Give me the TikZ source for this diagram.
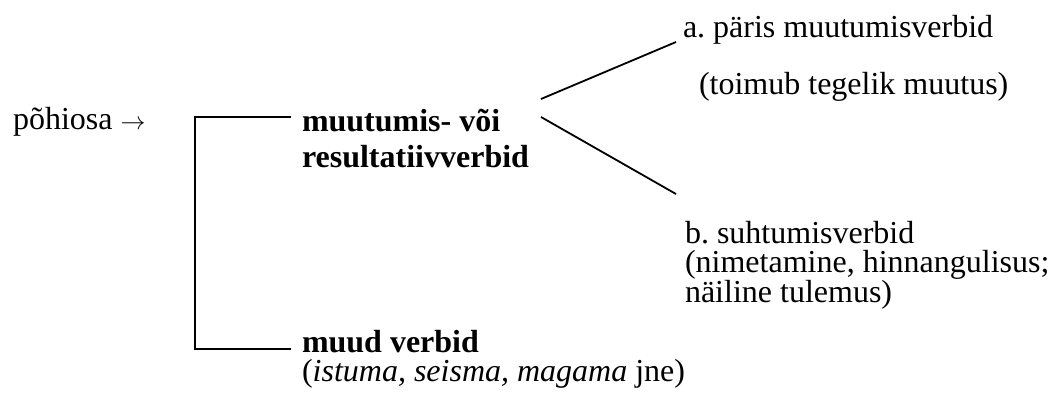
\documentclass[tikz,border=0pt]{standalone}
\usepackage{fontspec}
\setmainfont{Liberation Serif}
\frenchspacing
\begin{document}
\begin{tikzpicture}[x=1pt,y=-1pt,
  txt/.style={anchor=base west,inner sep=0pt,outer sep=0pt,font=\fontsize{32}{30}\selectfont},
  bld/.style={txt,font=\fontsize{32}{30}\selectfont\bfseries},
  ln/.style={line width=1.8pt,black}]
\useasboundingbox (0,0) rectangle (1051,394);
% texts
\node[txt] (p)  at (13,129)  {põhiosa {\fontsize{27}{30}\selectfont$\rightarrow$}};
\node[bld] (m1) at (302,131) {muutumis- või};
\node[bld] (m2) at (302,167) {resultatiivverbid};
\node[txt] (a1) at (683,37)  {a. päris muutumisverbid};
\node[txt] (a2) at (699,94)  {(toimub tegelik muutus)};
\node[txt] (b1) at (685,243) {b. suhtumisverbid};
\node[txt] (b2) at (685,272) {(nimetamine, hinnangulisus;};
\node[txt] (b3) at (685,302) {näiline tulemus)};
\node[bld] (u1) at (302,352) {muud verbid};
\node[txt] (u2) at (302,381) {(\textit{istuma, seisma, magama} jne)};
% connector points
\coordinate (bt) at (195,117);
\coordinate (mt) at (291,117);
\coordinate (bb) at (195,349);
\coordinate (ub) at (291,349);
\coordinate (da) at (541,99);
\coordinate (ea) at (676,42);
\coordinate (db) at (541,117);
\coordinate (eb) at (676,194);
% connectors
\draw[ln] (mt) -- (bt) -- (bb) -- (ub);
\draw[ln] (da) -- (ea);
\draw[ln] (db) -- (eb);
\end{tikzpicture}
\end{document}
